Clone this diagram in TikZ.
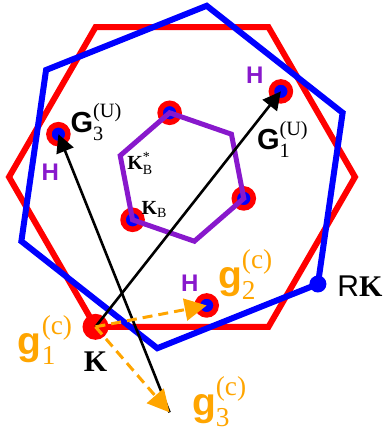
\documentclass[tikz,border=0pt]{standalone}
\usepackage{amsmath}
\usepackage{fontspec}
\setmainfont{Liberation Serif}
\setsansfont{Liberation Sans}
\usetikzlibrary{arrows.meta, positioning}
\definecolor{bzpurple}{RGB}{136,24,204}
\definecolor{gorange}{RGB}{255,165,0}

\begin{document}
\begin{tikzpicture}[
  x=0.5pt, y=0.5pt,
  bzline/.style={line width=3pt},
  redbz/.style={bzline, draw=red},
  bluebz/.style={bzline, draw=blue},
  minibz/.style={line width=2.5pt, draw=bzpurple},
  hdot/.style={circle, draw=red, fill=blue, line width=2.75pt,
    minimum size=9.5pt, inner sep=0pt},
  kdot/.style={circle, fill=red, minimum size=13pt, inner sep=0pt},
  rkdot/.style={circle, fill=blue, minimum size=8.5pt, inner sep=0pt},
  hlabel/.style={font=\fontsize{12}{14}\selectfont\sffamily\bfseries,
    text=bzpurple, inner sep=0pt},
  Glabel/.style={font=\fontsize{14.5}{16}\selectfont, inner sep=0pt},
  glabel/.style={font=\fontsize{19.5}{21}\selectfont, text=gorange, inner sep=0pt},
  klabel/.style={font=\fontsize{15}{17}\selectfont, inner sep=0pt},
  kblabel/.style={font=\fontsize{10}{12}\selectfont, inner sep=0pt},
  Garrow/.style={-{Triangle[length=9pt, width=9pt]}, line width=1.3pt, black},
  garrow/.style={-{Triangle[length=11pt, width=11pt]}, line width=1.5pt,
    gorange, dash pattern=on 5pt off 3pt}
]
\useasboundingbox (-182,-252) rectangle (201,177);
% zones
\draw[redbz] (0:173) \foreach \k in {1,...,5} { -- ({60*\k}:173) } -- cycle;
\draw[bluebz] (21.79:173) \foreach \k in {1,...,5} { -- ({21.79+60*\k}:173) } -- cycle;
% points
\node[hdot] (H1) at (40.89:130.8) {};
\node[hdot] (H2) at (280.89:130.8) {};
\node[hdot] (H3) at (160.89:130.8) {};
\node[hdot] (KB1) at (100.89:65.4) {};
\node[hdot] (KB2) at (-19.11:65.4) {};
\node[hdot] (KB3) at (220.89:65.4) {};
\coordinate (KBs) at (160.89:65.4);
\node[kdot] (K) at (240:173) {};
\node[rkdot] (RK) at (321.79:173) {};
\coordinate (g3) at (-12.4,-235.4);
\draw[minibz] (-19.11:65.4) \foreach \k in {1,...,5} { -- ({-19.11+60*\k}:65.4) } -- cycle;
% vectors
\draw[Garrow] (K.center) -- (H1.center);
\draw[Garrow] (g3) -- (H3.center);
\draw[garrow] (K.center) -- (H2.center);
\draw[garrow] (K.center) -- (g3);
% labels
\node[hlabel] (H1lab) at ([shift={(-26,16)}]H1) {H};
\node[hlabel] (H2lab) at ([shift={(-17,22)}]H2) {H};
\node[hlabel] (H3lab) at ([shift={(-8,-38)}]H3) {H};
\node[Glabel] (G1lab) at ([shift={(2,-48)}]H1)
  {{\sffamily\bfseries G}$_{\textnormal{1}}^{\textnormal{(U)}}$};
\node[Glabel] (G3lab) at ([shift={(38,12)}]H3)
  {{\sffamily\bfseries G}$_{\textnormal{3}}^{\textnormal{(U)}}$};
\node[kblabel] (KBslab) at ([shift={(20,-8)}]KBs)
  {\textbf{K}$_{\textnormal{B}}^{\textnormal{*}}$};
\node[kblabel] (KBlab) at ([shift={(22,10)}]KB3)
  {\textbf{K}$_{\textnormal{B}}$};
\node[klabel] (Klab) at ([shift={(0,-35)}]K) {\textbf{K}};
\node[klabel] (RKlab) at ([shift={(42,-2)}]RK) {{\sffamily R}\textbf{K}};
\node[glabel] (g1lab) at ([shift={(-50,-13)}]K)
  {{\sffamily\bfseries g}$_{\textnormal{1}}^{\textnormal{(c)}}$};
\node[glabel] (g2lab) at ([shift={(39,31)}]H2)
  {{\sffamily\bfseries g}$_{\textnormal{2}}^{\textnormal{(c)}}$};
\node[glabel] (g3lab) at ([shift={(50,11)}]g3)
  {{\sffamily\bfseries g}$_{\textnormal{3}}^{\textnormal{(c)}}$};
\end{tikzpicture}
\end{document}
